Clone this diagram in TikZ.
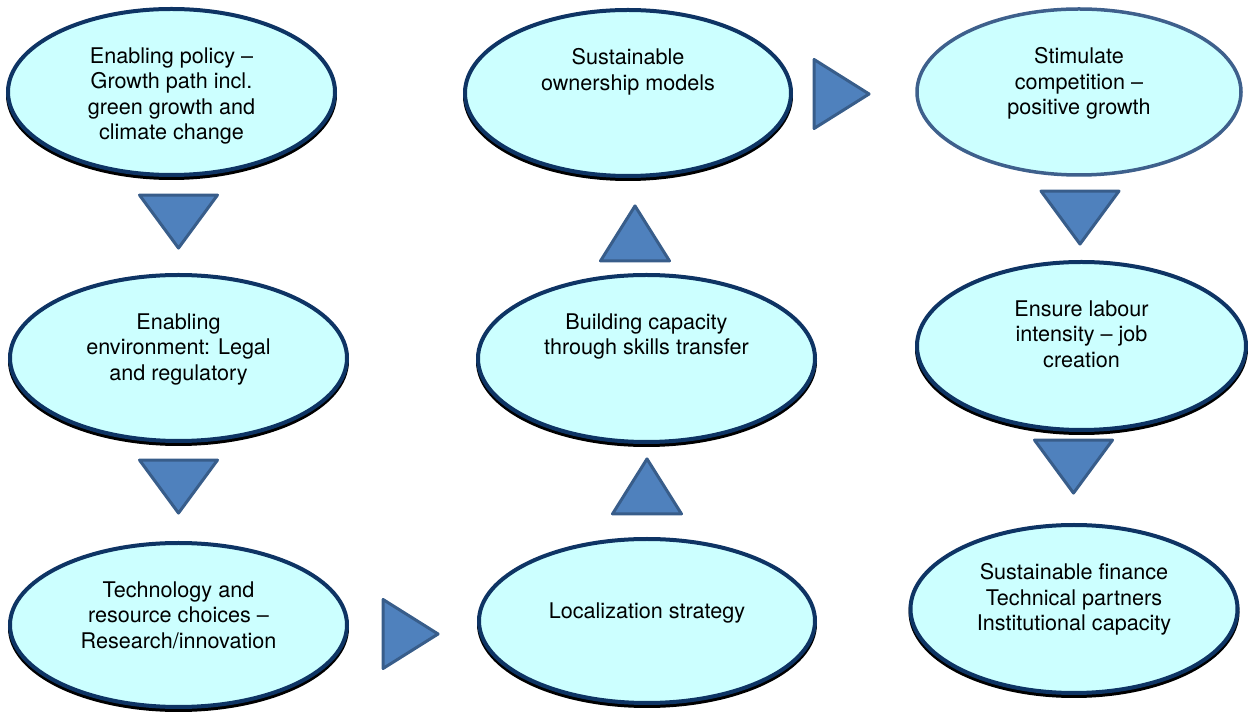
\documentclass[tikz,border=0pt]{standalone}
\usepackage{fontspec}
\setmainfont{TeX Gyre Heros}
\usetikzlibrary{positioning, shapes.geometric, shadows}

\definecolor{bubblefill}{RGB}{204,255,255}
\definecolor{bubbleline}{RGB}{14,52,100}
\definecolor{softline}{RGB}{62,96,140}
\definecolor{pointerfill}{RGB}{79,129,189}
\definecolor{pointerline}{RGB}{56,93,138}

\tikzset{
  bubble/.style={
    ellipse, draw=bubbleline, fill=bubblefill, line width=2pt, inner sep=0pt,
    drop shadow={shadow xshift=0pt, shadow yshift=-1.5pt, opacity=1,
      fill=black, draw=black, line width=2pt}
  },
  plainbubble/.style={
    ellipse, draw=softline, fill=bubblefill, line width=1.75pt, inner sep=0pt
  },
  caption/.style={
    align=center, inner sep=0pt, outer sep=0pt,
    font=\fontsize{10.8}{12.75}\selectfont
  },
  pointer/.style={
    isosceles triangle, isosceles triangle stretches, draw=pointerline,
    fill=pointerfill, line width=1.5pt, line join=round, inner sep=0pt
  },
  pointdown/.style={pointer, shape border rotate=270, minimum width=39pt, minimum height=26.5pt},
  pointup/.style={pointer, shape border rotate=90, minimum width=34.5pt, minimum height=27.5pt},
  pointright/.style={pointer, shape border rotate=0, minimum width=34.5pt, minimum height=27.5pt}
}

\begin{document}
\begin{tikzpicture}[x=0.5pt, y=-0.5pt]

\useasboundingbox (0,0) rectangle (1248,715);

% Left column
\node[bubble, minimum width=163.5pt, minimum height=83pt] (policy) at (171.5,92) {};
\node[caption, below=20.2pt of policy.north] (policy-t) {Enabling policy –\\Growth path incl.\\green growth and\\climate change};

\node[bubble, minimum width=168.5pt, minimum height=83pt] (legal) at (178.5,358) {};
\node[caption, below=20.2pt of legal.north] (legal-t) {Enabling\\environment: Legal\\and regulatory};

\node[bubble, minimum width=168.5pt, minimum height=82pt] (tech) at (178.5,625) {};
\node[caption, below=20.2pt of tech.north] (tech-t) {Technology and\\resource choices –\\Research/innovation};

% Middle column
\node[bubble, minimum width=168pt, minimum height=82pt] (local) at (647,621) {};
\node[caption, below=32.7pt of local.north] (local-t) {Localization strategy};

\node[bubble, minimum width=168.5pt, minimum height=83.5pt] (skills) at (646.5,358.5) {};
\node[caption, below=20.2pt of skills.north] (skills-t) {Building capacity\\through skills transfer};

\node[bubble, minimum width=163pt, minimum height=83pt] (owner) at (628,93) {};
\node[caption, below=20.2pt of owner.north] (owner-t) {Sustainable\\ownership models};

% Right column
\node[plainbubble, minimum width=162pt, minimum height=83pt] (compete) at (1079,92) {};
\node[caption, below=20.2pt of compete.north] (compete-t) {Stimulate\\competition –\\positive growth};

\node[bubble, minimum width=164.5pt, minimum height=84pt] (labour) at (1081.5,346) {};
\node[caption, below=20.2pt of labour.north] (labour-t) {Ensure labour\\intensity – job\\creation};

\node[bubble, minimum width=163.5pt, minimum height=84pt] (finance) at (1074,609) {};
\node[caption, below=20.2pt of finance.north] (finance-t) {Sustainable finance\\Technical partners\\Institutional capacity};

% Pointers between the bubbles
\node[pointdown, anchor=apex] (p1) at (178.5,252) {};
\node[pointdown, anchor=apex] (p2) at (178.5,517) {};
\node[pointright, anchor=apex] (p3) at (442,634) {};
\node[pointup, anchor=apex] (p4) at (647,455) {};
\node[pointup, anchor=apex] (p5) at (635,202) {};
\node[pointright, anchor=apex] (p6) at (873,94) {};
\node[pointdown, anchor=apex] (p7) at (1080,248) {};
\node[pointdown, anchor=apex] (p8) at (1073.5,497) {};

\end{tikzpicture}
\end{document}
